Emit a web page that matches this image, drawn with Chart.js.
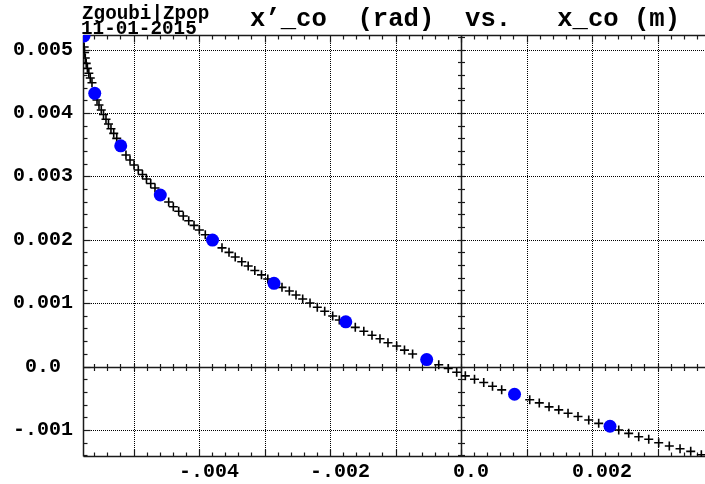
<!DOCTYPE html>
<html lang="en">
<head>
  <meta charset="UTF-8">
  <title>x'_co vs. x_co</title>
  <script src="https://cdn.jsdelivr.net/npm/chart.js@4.4.1/dist/chart.umd.min.js"></script>
  <style>
    html, body { margin: 0; padding: 0; background: #fff; }
    canvas { display: block; }
  </style>
</head>
<body>
  <canvas id="coChart" width="705" height="484"></canvas>

  <script>
    // closed orbit scan, "+" markers : x_co (m) / x'_co (rad)
    const crossX = [
      -0.005753, -0.005747, -0.005736, -0.005722, -0.005704, -0.005682, -0.005660, -0.005634,
      -0.005557, -0.005527, -0.005492, -0.005458, -0.005420, -0.005382, -0.005344, -0.005302, -0.005256,
      -0.005115, -0.005053, -0.004992, -0.004927, -0.004863, -0.004802, -0.004737, -0.004672,
      -0.004463, -0.004392, -0.004310, -0.004240, -0.004157, -0.004076, -0.003995, -0.003904,
      -0.003649, -0.003542, -0.003447, -0.003347, -0.003249, -0.003148, -0.003046, -0.002950,
      -0.002733, -0.002621, -0.002519, -0.002417, -0.002305, -0.002194, -0.002081, -0.001959, -0.001858,
      -0.001614, -0.001484, -0.001359, -0.001237, -0.001115, -0.000982, -0.000863, -0.000739,
      -0.000340, -0.000195, -0.000066, 0.000066, 0.000206, 0.000347, 0.000481, 0.000621,
      0.001049, 0.001195, 0.001344, 0.001492, 0.001634, 0.001786, 0.001950, 0.002102,
      0.002408, 0.002560, 0.002713, 0.002866, 0.003018, 0.003180, 0.003344, 0.003507, 0.003669
    ];
    const crossY = [
      0.005039, 0.004953, 0.004866, 0.004782, 0.004703, 0.004625, 0.004550, 0.004476,
      0.004203, 0.004125, 0.004046, 0.003975, 0.003899, 0.003825, 0.003751, 0.003678, 0.003599,
      0.003336, 0.003257, 0.003178, 0.003099, 0.003028, 0.002957, 0.002886, 0.002815,
      0.002595, 0.002521, 0.002448, 0.002374, 0.002300, 0.002227, 0.002153, 0.002079,
      0.001872, 0.001801, 0.001727, 0.001653, 0.001585, 0.001514, 0.001446, 0.001380,
      0.001249, 0.001191, 0.001128, 0.001065, 0.001002, 0.000934, 0.000871, 0.000797, 0.000733,
      0.000618, 0.000557, 0.000494, 0.000438, 0.000375, 0.000323, 0.000259, 0.000197,
      0.000028, -0.000030, -0.000090, -0.000147, -0.000200, -0.000252, -0.000311, -0.000368,
      -0.000525, -0.000574, -0.000636, -0.000683, -0.000737, -0.000789, -0.000844, -0.000896,
      -0.001002, -0.001054, -0.001107, -0.001148, -0.001202, -0.001254, -0.001297, -0.001338, -0.001391
    ];

    // tracked closed orbits (blue)
    const trackX = [-0.005756, -0.005592, -0.005195, -0.004591, -0.003794, -0.002855, -0.001759, -0.000524, 0.000817, 0.002275];
    const trackY = [0.005213, 0.004309, 0.003481, 0.002705, 0.001995, 0.001312, 0.000705, 0.000110, -0.000437, -0.000942];

    // axes
    const xMin = -0.005771, xMax = 0.003725;
    const yMin = -0.001427, yMax = 0.005229;
    const xGrid = [-0.005, -0.004, -0.003, -0.002, -0.001, 0, 0.001, 0.002, 0.003];
    const yGrid = [-0.001, 0, 0.001, 0.002, 0.003, 0.004, 0.005];
    const xLabelValues = [-0.004, -0.002, 0, 0.002];
    const xLabelTexts = ['-.004', '-.002', '0.0', '0.002'];
    const yLabelTexts = ['-.001', '0.0', '0.001', '0.002', '0.003', '0.004', '0.005'];
    const minorStep = 0.0002;

    const mono = "'Liberation Mono', 'Courier New', monospace";

    function toPoints(xs, ys) {
      return xs.map((v, i) => ({ x: v, y: ys[i] }));
    }

    function minorValues(min, max) {
      const out = [];
      for (let k = Math.ceil(min / minorStep); k <= Math.floor(max / minorStep); k++) {
        out.push(k * minorStep);
      }
      return out;
    }

    function isMajor(v) {
      const r = v / 0.001;
      return Math.abs(r - Math.round(r)) < 1e-6;
    }

    // frame, dotted grid, zero lines and tick marks
    const framePlugin = {
      id: 'frame',
      beforeDatasetsDraw(chart) {
        const { ctx, chartArea: a, scales: { x, y } } = chart;
        const seg = (x1, y1, x2, y2) => {
          ctx.beginPath();
          ctx.moveTo(x1, y1);
          ctx.lineTo(x2, y2);
          ctx.stroke();
        };
        const x0 = Math.round(x.getPixelForValue(0)) + 0.5;
        const y0 = Math.round(y.getPixelForValue(0)) + 0.5;

        ctx.save();
        ctx.strokeStyle = '#000';
        ctx.lineWidth = 1;
        ctx.setLineDash([1, 1]);
        xGrid.forEach(v => {
          if (v === 0) return;
          const px = Math.round(x.getPixelForValue(v)) + 0.5;
          seg(px, a.top, px, a.bottom);
        });
        yGrid.forEach(v => {
          if (v === 0) return;
          const py = Math.round(y.getPixelForValue(v)) + 0.5;
          seg(a.left, py, a.right, py);
        });
        ctx.setLineDash([]);

        ctx.strokeStyle = '#1a1a1a';
        ctx.lineWidth = 1.5;
        seg(a.left, y0, a.right, y0);
        seg(x0, a.top, x0, a.bottom);
        const L = a.left + 0.5, T = a.top + 0.5, B = a.bottom - 0.5;
        seg(L, T, a.right, T);
        seg(L, T, L, B);
        seg(L, B, a.right, B);

        ctx.lineWidth = 1.2;
        minorValues(xMin, xMax).forEach(v => {
          const px = Math.round(x.getPixelForValue(v)) + 0.5;
          const len = isMajor(v) ? 7 : 4;
          seg(px, T, px, T + len);
          seg(px, B, px, B - len);
          seg(px, y0 - 3.5, px, y0 + 3.5);
        });
        minorValues(yMin, yMax).forEach(v => {
          const py = Math.round(y.getPixelForValue(v)) + 0.5;
          const len = isMajor(v) ? 7 : 4;
          seg(L, py, L + len, py);
          seg(x0 - 3.5, py, x0 + 3.5, py);
        });
        ctx.restore();
      },
      afterDraw(chart) {
        const { ctx } = chart;
        ctx.save();
        ctx.fillStyle = '#000';
        ctx.textBaseline = 'alphabetic';
        ctx.textAlign = 'left';
        ctx.font = 'bold 19.3px ' + mono;
        ctx.fillText('Zgoubi|Zpop', 82, 19);
        ctx.fillText('11-01-2015', 81, 34);
        ctx.font = 'bold 25.6px ' + mono;
        ctx.fillText('x\u2019_co  (rad)  vs.   x_co (m)', 250, 26);
        ctx.restore();
      }
    };

    const ctx = document.getElementById('coChart').getContext('2d');
    const coChart = new Chart(ctx, {
      type: 'scatter',
      data: {
        datasets: [
          {
            label: 'tracking',
            data: toPoints(trackX, trackY),
            pointStyle: 'circle',
            pointRadius: 6.5,
            pointBorderWidth: 0,
            backgroundColor: '#0000ff',
            borderColor: '#0000ff',
            clip: 0,
            order: 0
          },
          {
            label: 'closed orbit',
            data: toPoints(crossX, crossY),
            pointStyle: 'cross',
            pointRadius: 4.5,
            pointBorderWidth: 1.6,
            borderColor: '#000',
            order: 1
          }
        ]
      },
      options: {
        responsive: false,
        animation: false,
        events: [],
        layout: { autoPadding: false, padding: { top: 35, left: 0, right: 0, bottom: 0 } },
        plugins: {
          legend: { display: false },
          tooltip: { enabled: false },
          title: { display: false }
        },
        scales: {
          x: {
            type: 'linear',
            min: xMin,
            max: xMax,
            grid: { display: false, drawTicks: false },
            border: { display: false },
            afterBuildTicks: scale => { scale.ticks = xGrid.map(v => ({ value: v })); },
            afterFit: scale => { scale.height = 27; },
            ticks: {
              autoSkip: false,
              maxRotation: 0,
              padding: 3,
              labelOffset: 10,
              color: '#000',
              font: { family: mono, size: 20, weight: 'bold' },
              callback: v => {
                const i = xLabelValues.findIndex(t => Math.abs(t - v) < 1e-9);
                return i < 0 ? '' : xLabelTexts[i];
              }
            }
          },
          y: {
            type: 'linear',
            min: yMin,
            max: yMax,
            grid: { display: false, drawTicks: false },
            border: { display: false },
            afterBuildTicks: scale => { scale.ticks = yGrid.map(v => ({ value: v })); },
            afterFit: scale => { scale.width = 83; },
            ticks: {
              autoSkip: false,
              padding: 10,
              crossAlign: 'center',
              color: '#000',
              font: { family: mono, size: 20, weight: 'bold' },
              callback: v => {
                const i = yGrid.findIndex(t => Math.abs(t - v) < 1e-9);
                return i < 0 ? '' : yLabelTexts[i];
              }
            }
          }
        }
      },
      plugins: [framePlugin]
    });
  </script>
</body>
</html>
